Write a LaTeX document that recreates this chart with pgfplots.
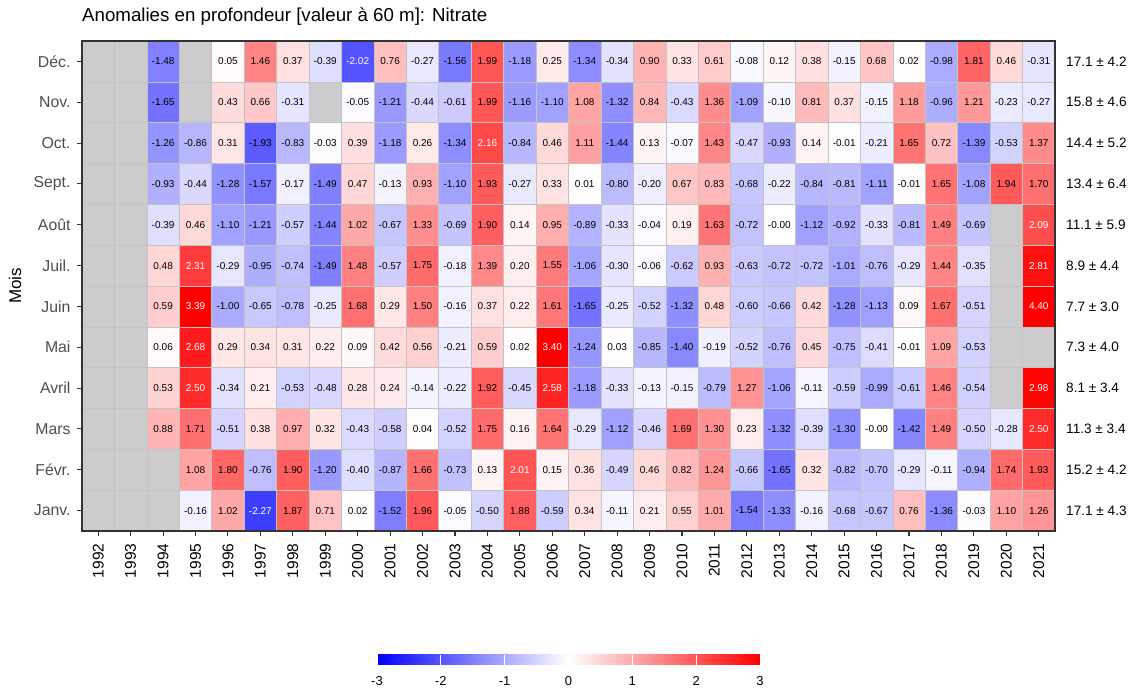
\documentclass[border=0pt]{standalone}
\usepackage{fontspec}
\setmainfont{Liberation Sans}
\usepackage{pgfplots}
\usepackage{pgfplotstable}
\pgfplotsset{compat=1.18}
\definecolor{cellgrid}{RGB}{195,195,195}
\definecolor{nagray}{RGB}{204,204,204}
\definecolor{axisdark}{RGB}{51,51,51}
\definecolor{ticktext}{RGB}{77,77,77}
\pgfplotsset{colormap={bwr}{rgb255=(0,0,255) rgb255=(255,255,255) rgb255=(255,0,0)}}

\pgfdeclareplotmark{cell}{%
  \pgfpathrectangle{\pgfpoint{-16.2167pt}{-20.4167pt}}{\pgfpoint{32.4333pt}{40.8333pt}}%
  \pgfusepathqfillstroke}

% an = year, m = month (1 = Janv. ... 12 = Déc.), v = anomaly
\pgfplotstableread{
an m v
1994 12 -1.48
1996 12 0.05
1997 12 1.46
1998 12 0.37
1999 12 -0.39
2000 12 -2.02
2001 12 0.76
2002 12 -0.27
2003 12 -1.56
2004 12 1.99
2005 12 -1.18
2006 12 0.25
2007 12 -1.34
2008 12 -0.34
2009 12 0.90
2010 12 0.33
2011 12 0.61
2012 12 -0.08
2013 12 0.12
2014 12 0.38
2015 12 -0.15
2016 12 0.68
2017 12 0.02
2018 12 -0.98
2019 12 1.81
2020 12 0.46
2021 12 -0.31
1994 11 -1.65
1996 11 0.43
1997 11 0.66
1998 11 -0.31
2000 11 -0.05
2001 11 -1.21
2002 11 -0.44
2003 11 -0.61
2004 11 1.99
2005 11 -1.16
2006 11 -1.10
2007 11 1.08
2008 11 -1.32
2009 11 0.84
2010 11 -0.43
2011 11 1.36
2012 11 -1.09
2013 11 -0.10
2014 11 0.81
2015 11 0.37
2016 11 -0.15
2017 11 1.18
2018 11 -0.96
2019 11 1.21
2020 11 -0.23
2021 11 -0.27
1994 10 -1.26
1995 10 -0.86
1996 10 0.31
1997 10 -1.93
1998 10 -0.83
1999 10 -0.03
2000 10 0.39
2001 10 -1.18
2002 10 0.26
2003 10 -1.34
2004 10 2.16
2005 10 -0.84
2006 10 0.46
2007 10 1.11
2008 10 -1.44
2009 10 0.13
2010 10 -0.07
2011 10 1.43
2012 10 -0.47
2013 10 -0.93
2014 10 0.14
2015 10 -0.01
2016 10 -0.21
2017 10 1.65
2018 10 0.72
2019 10 -1.39
2020 10 -0.53
2021 10 1.37
1994 9 -0.93
1995 9 -0.44
1996 9 -1.28
1997 9 -1.57
1998 9 -0.17
1999 9 -1.49
2000 9 0.47
2001 9 -0.13
2002 9 0.93
2003 9 -1.10
2004 9 1.93
2005 9 -0.27
2006 9 0.33
2007 9 0.01
2008 9 -0.80
2009 9 -0.20
2010 9 0.67
2011 9 0.83
2012 9 -0.68
2013 9 -0.22
2014 9 -0.84
2015 9 -0.81
2016 9 -1.11
2017 9 -0.01
2018 9 1.65
2019 9 -1.08
2020 9 1.94
2021 9 1.70
1994 8 -0.39
1995 8 0.46
1996 8 -1.10
1997 8 -1.21
1998 8 -0.57
1999 8 -1.44
2000 8 1.02
2001 8 -0.67
2002 8 1.33
2003 8 -0.69
2004 8 1.90
2005 8 0.14
2006 8 0.95
2007 8 -0.89
2008 8 -0.33
2009 8 -0.04
2010 8 0.19
2011 8 1.63
2012 8 -0.72
2013 8 -0.00
2014 8 -1.12
2015 8 -0.92
2016 8 -0.33
2017 8 -0.81
2018 8 1.49
2019 8 -0.69
2021 8 2.09
1994 7 0.48
1995 7 2.31
1996 7 -0.29
1997 7 -0.95
1998 7 -0.74
1999 7 -1.49
2000 7 1.48
2001 7 -0.57
2002 7 1.75
2003 7 -0.18
2004 7 1.39
2005 7 0.20
2006 7 1.55
2007 7 -1.06
2008 7 -0.30
2009 7 -0.06
2010 7 -0.62
2011 7 0.93
2012 7 -0.63
2013 7 -0.72
2014 7 -0.72
2015 7 -1.01
2016 7 -0.76
2017 7 -0.29
2018 7 1.44
2019 7 -0.35
2021 7 2.81
1994 6 0.59
1995 6 3.39
1996 6 -1.00
1997 6 -0.65
1998 6 -0.78
1999 6 -0.25
2000 6 1.68
2001 6 0.29
2002 6 1.50
2003 6 -0.16
2004 6 0.37
2005 6 0.22
2006 6 1.61
2007 6 -1.65
2008 6 -0.25
2009 6 -0.52
2010 6 -1.32
2011 6 0.48
2012 6 -0.60
2013 6 -0.66
2014 6 0.42
2015 6 -1.28
2016 6 -1.13
2017 6 0.09
2018 6 1.67
2019 6 -0.51
2021 6 4.40
1994 5 0.06
1995 5 2.68
1996 5 0.29
1997 5 0.34
1998 5 0.31
1999 5 0.22
2000 5 0.09
2001 5 0.42
2002 5 0.56
2003 5 -0.21
2004 5 0.59
2005 5 0.02
2006 5 3.40
2007 5 -1.24
2008 5 0.03
2009 5 -0.85
2010 5 -1.40
2011 5 -0.19
2012 5 -0.52
2013 5 -0.76
2014 5 0.45
2015 5 -0.75
2016 5 -0.41
2017 5 -0.01
2018 5 1.09
2019 5 -0.53
1994 4 0.53
1995 4 2.50
1996 4 -0.34
1997 4 0.21
1998 4 -0.53
1999 4 -0.48
2000 4 0.28
2001 4 0.24
2002 4 -0.14
2003 4 -0.22
2004 4 1.92
2005 4 -0.45
2006 4 2.58
2007 4 -1.18
2008 4 -0.33
2009 4 -0.13
2010 4 -0.15
2011 4 -0.79
2012 4 1.27
2013 4 -1.06
2014 4 -0.11
2015 4 -0.59
2016 4 -0.99
2017 4 -0.61
2018 4 1.46
2019 4 -0.54
2021 4 2.98
1994 3 0.88
1995 3 1.71
1996 3 -0.51
1997 3 0.38
1998 3 0.97
1999 3 0.32
2000 3 -0.43
2001 3 -0.58
2002 3 0.04
2003 3 -0.52
2004 3 1.75
2005 3 0.16
2006 3 1.64
2007 3 -0.29
2008 3 -1.12
2009 3 -0.46
2010 3 1.69
2011 3 1.30
2012 3 0.23
2013 3 -1.32
2014 3 -0.39
2015 3 -1.30
2016 3 -0.00
2017 3 -1.42
2018 3 1.49
2019 3 -0.50
2020 3 -0.28
2021 3 2.50
1995 2 1.08
1996 2 1.80
1997 2 -0.76
1998 2 1.90
1999 2 -1.20
2000 2 -0.40
2001 2 -0.87
2002 2 1.66
2003 2 -0.73
2004 2 0.13
2005 2 2.01
2006 2 0.15
2007 2 0.36
2008 2 -0.49
2009 2 0.46
2010 2 0.82
2011 2 1.24
2012 2 -0.66
2013 2 -1.65
2014 2 0.32
2015 2 -0.82
2016 2 -0.70
2017 2 -0.29
2018 2 -0.11
2019 2 -0.94
2020 2 1.74
2021 2 1.93
1995 1 -0.16
1996 1 1.02
1997 1 -2.27
1998 1 1.87
1999 1 0.71
2000 1 0.02
2001 1 -1.52
2002 1 1.96
2003 1 -0.05
2004 1 -0.50
2005 1 1.88
2006 1 -0.59
2007 1 0.34
2008 1 -0.11
2009 1 0.21
2010 1 0.55
2011 1 1.01
2012 1 -1.54
2013 1 -1.33
2014 1 -0.16
2015 1 -0.68
2016 1 -0.67
2017 1 0.76
2018 1 -1.36
2019 1 -0.03
2020 1 1.10
2021 1 1.26
}\anom

\newcommand\cellfont{\fontsize{10}{12}\selectfont}

\begin{document}
\begin{tikzpicture}
\useasboundingbox (0,0) rectangle (1131pt,692pt);
\begin{axis}[
  at={(82pt,161pt)}, anchor=south west,
  scale only axis, width=973pt, height=490pt,
  xmin=1991.5, xmax=2021.5, ymin=0.5, ymax=12.5,
  xtick={1992,...,2021}, ytick={1,...,12},
  yticklabels={Janv.,Févr.,Mars,Avril,Mai,Juin,Juil.,Août,Sept.,Oct.,Nov.,Déc.},
  /pgf/number format/1000 sep={},
  /pgf/number format/assume math mode=true,
  minor xtick={1991.5,1992.5,...,2021.5},
  minor ytick={0.5,1.5,...,12.5},
  minor tick length=0pt,
  grid=minor,
  minor grid style={draw=cellgrid, line width=0.6pt},
  axis background/.style={fill=nagray},
  axis on top,
  axis line style={draw=axisdark, line width=1.4pt},
  tick pos=left, tick align=outside, major tick length=5pt,
  major tick style={draw=axisdark, line width=1.1pt},
  yticklabel shift=3pt,
  xticklabel shift=4pt,
  yticklabel style={font=\fontsize{15.8}{18}\selectfont, text=ticktext, anchor=east},
  xticklabel style={font=\fontsize{15.5}{18}\selectfont, text=black, rotate=90, anchor=east},
  ylabel={Mois},
  ylabel style={font=\fontsize{17}{20}\selectfont, at={(rel axis cs:0,0.5)}, yshift=67pt, anchor=center},
  title={Anomalies en profondeur [valeur à 60 m]: Nitrate},
  title style={font=\fontsize{18.7}{22}\selectfont, at={(rel axis cs:0,1)}, anchor=base west, yshift=13.5pt, inner sep=0pt},
  colormap name=bwr,
  point meta min=-3, point meta max=3,
  colorbar horizontal,
  colorbar style={
    at={(parent axis.south west)}, anchor=north west, xshift=295pt, yshift=-115pt,
    scale only axis, width=383pt, height=10pt,
    xtick={-3,-2,-1,0,1,2,3},
    axis line style={draw=none},
    tick align=inside, major tick length=10pt,
    xtick style={draw=white, line width=0.8pt},
    xticklabel shift=8pt,
    xticklabel style={font=\fontsize{13}{15}\selectfont, text=black},
    /pgf/number format/assume math mode=true,
  },
  after end axis/.code={%
    \draw[axisdark, line width=1.4pt] (rel axis cs:0,0) rectangle (rel axis cs:1,1);},
]
\addplot[scatter, only marks, mark=cell,
  scatter/use mapped color={draw=cellgrid, fill=mapped color},
  mark options={line width=0.6pt},
  point meta={max(-3,min(3,\thisrow{v}))}]
  table[x=an, y=m] {\anom};
\addplot[draw=none, mark=none, nodes near coords, point meta=explicit symbolic,
  restrict expr to domain={abs(\thisrow{v})}{0:1.995},
  nodes near coords align={center},
  every node near coord/.append style={font=\cellfont, text=black, anchor=center}]
  table[x=an, y=m, meta=v] {\anom};
\addplot[draw=none, mark=none, nodes near coords, point meta=explicit symbolic,
  restrict expr to domain={abs(\thisrow{v})}{1.995:10},
  nodes near coords align={center},
  every node near coord/.append style={font=\cellfont, text=white, anchor=center}]
  table[x=an, y=m, meta=v] {\anom};
\end{axis}
\begin{axis}[
  at={(82pt,161pt)}, anchor=south west,
  scale only axis, width=973pt, height=490pt,
  xmin=1991.5, xmax=2021.5, ymin=0.5, ymax=12.5,
  hide x axis, axis y line*=right, axis line style={draw=none},
  ytick={1,...,12}, major tick length=0pt, ytick style={draw=none},
  yticklabels={17.1 ± 4.3,15.2 ± 4.2,11.3 ± 3.4,8.1 ± 3.4,7.3 ± 4.0,7.7 ± 3.0,8.9 ± 4.4,11.1 ± 5.9,13.4 ± 6.4,14.4 ± 5.2,15.8 ± 4.6,17.1 ± 4.2},
  yticklabel style={anchor=west, inner sep=0pt, xshift=11pt, font=\fontsize{13.6}{16}\selectfont, text=black},
]
\end{axis}
\end{tikzpicture}
\end{document}
